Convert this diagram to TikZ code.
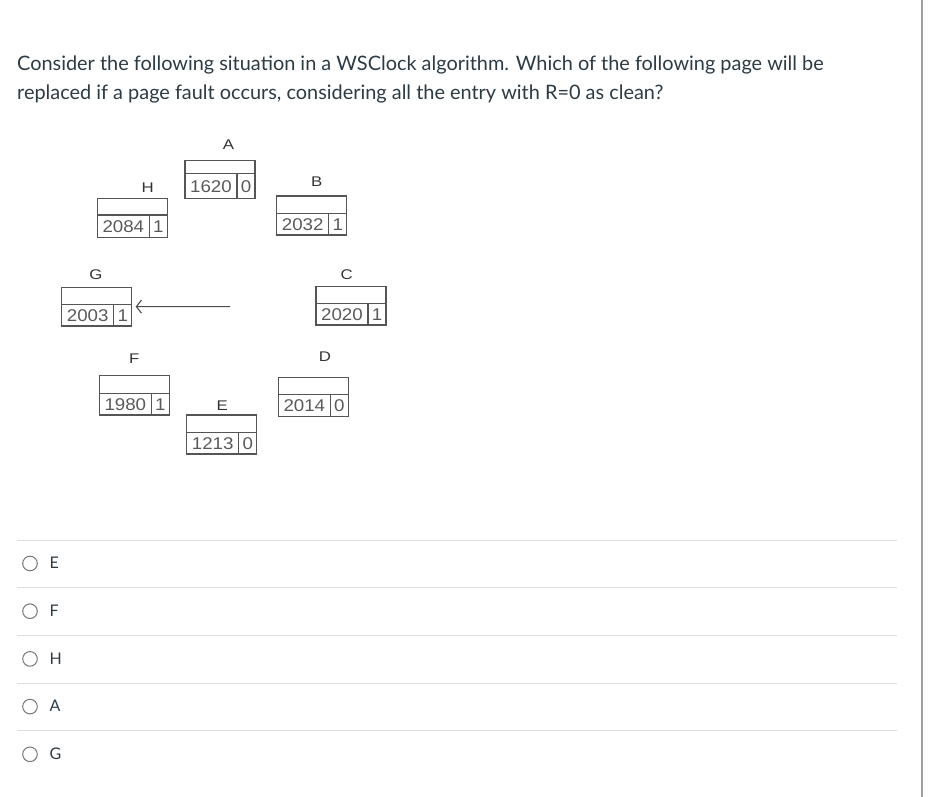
\documentclass[tikz,border=0pt]{standalone}
\usepackage{fontspec}
\setmainfont{Lato}
\newfontfamily\diagfont[FakeStretch=1.2]{Liberation Sans}
\newfontfamily\numfont[FakeStretch=1.1]{Liberation Sans}
\usetikzlibrary{arrows.meta}
\definecolor{qtext}{HTML}{2D3B45}
\definecolor{boxgray}{HTML}{555555}
\definecolor{numgray}{HTML}{5A5A5A}
\definecolor{sepgray}{HTML}{DDDDDD}
\definecolor{radiogray}{HTML}{777777}
\definecolor{edgegray}{HTML}{A0A0A0}
\tikzset{
  pagebox/.style={draw=boxgray, line width=1.2pt, rectangle, minimum width=70pt, inner sep=0pt, outer sep=0pt},
  boxline/.style={draw=boxgray, line width=1.2pt},
  numtext/.style={font=\numfont\fontsize{17}{18}\selectfont, text=numgray, inner sep=0pt},
  lbl/.style={font=\diagfont\fontsize{14}{15}\selectfont, text=black!80, inner sep=0pt},
  question/.style={font=\fontsize{19.9}{24}\selectfont, text=qtext, anchor=base west, inner sep=0pt},
  option/.style={font=\fontsize{16}{20}\selectfont, text=qtext, anchor=base west, inner sep=0pt},
  radio/.style={circle, draw=radiogray, line width=1pt, minimum size=14.6pt, inner sep=0pt},
  sep/.style={draw=sepgray, line width=1pt},
  hand/.style={draw=black!70, line width=1.1pt, -{Straight Barb[length=5pt,width=13pt,line width=1.1pt]}, shorten >=4pt}
}
% name, x, y top, total height, top height, number, bit
\newcommand\pagecell[7]{%
  \node[pagebox, minimum height=#4pt, anchor=north west] (#1) at (#2,#3) {};
  \draw[boxline] (#2,#3+#5) -- (#2+70,#3+#5);
  \draw[boxline] (#2+52,#3+#5) -- (#2+52,#3+#4);
  \node[numtext] (#1num) at ({#2+26},{#3+(#5+#4)/2+0.5}) {#6};
  \node[numtext] (#1bit) at ({#2+61},{#3+(#5+#4)/2+0.5}) {#7};
}
\begin{document}
\begin{tikzpicture}[x=1pt,y=-1pt]
\useasboundingbox (0,0) rectangle (929,797);
\fill[white] (0,0) rectangle (929,797);
\draw[draw=edgegray, line width=1.8pt] (922.3,0) -- (922.3,797);

\node[question] (q1) at (17,70.7) {Consider the following situation in a WSClock algorithm. Which of the following page will be};
\node[question] (q2) at (17,100) {replaced if a page fault occurs, considering all the entry with R=0 as clean?};

\pagecell{boxA}{185}{160.7}{37.6}{12.6}{1620}{0}
\pagecell{boxH}{97.3}{198.3}{39}{16.7}{2084}{1}
\pagecell{boxB}{276.7}{196}{39}{17.3}{2032}{1}
\pagecell{boxG}{61.7}{287.3}{38.7}{17}{2003}{1}
\pagecell{boxC}{316}{286.7}{38.3}{16.6}{2020}{1}
\pagecell{boxF}{99.3}{375.7}{39.3}{17.6}{1980}{1}
\pagecell{boxD}{278.3}{377.3}{39.4}{17}{2014}{0}
\pagecell{boxE}{186.7}{415}{39}{17.3}{1213}{0}

\node[lbl] (lA) at (228.5,145) {A};
\node[lbl] (lH) at (147.7,187.5) {H};
\node[lbl] (lB) at (316.7,182) {B};
\node[lbl] (lG) at (96,275) {G};
\node[lbl] (lC) at (346.7,274.5) {C};
\node[lbl] (lF) at (134.3,358.5) {F};
\node[lbl] (lD) at (325,357) {D};
\node[lbl] (lE) at (222.3,406) {E};

\coordinate (handstart) at (230,306.6);
\draw[hand] (handstart) -- (boxG);

\foreach \i/\t in {0/E,1/F,2/H,3/A,4/G}{
  \draw[sep] (16.7,{540+47.7*\i}) -- (896.7,{540+47.7*\i});
  \node[radio] (r\t) at (30,{563.5+47.7*\i}) {};
  \node[option] (o\t) at (49.3,{568.8+47.7*\i}) {\t};
}
\end{tikzpicture}
\end{document}
